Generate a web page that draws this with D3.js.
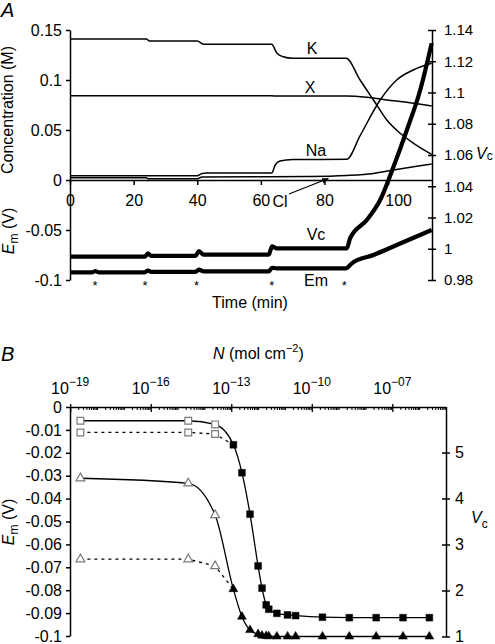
<!DOCTYPE html>
<html><head><meta charset="utf-8">
<script src="https://cdn.jsdelivr.net/npm/d3@7"></script>
<style>
body{margin:0;background:#fff}
svg{display:block;font-family:"Liberation Sans",Arial,Helvetica,sans-serif}
</style></head><body>
<svg id="c" width="495" height="644"></svg>
<script>
// ---------- Panel A data ----------
const timeTicks = [0, 20, 40, 60, 80, 100];
const concTicks = [-0.1, -0.05, 0, 0.05, 0.1, 0.15];
const vcTicksA = [0.98, 1, 1.02, 1.04, 1.06, 1.08, 1.1, 1.12, 1.14];

const tK = [0, 24, 25, 40, 42, 63.4, 65, 67, 70, 86.8, 91.2, 95.4, 99.6, 103.8, 108, 113.7];
const K  = [0.141, 0.141, 0.139, 0.139, 0.1357, 0.1357, 0.127, 0.1233, 0.1218, 0.1217, 0.100, 0.080, 0.060, 0.0467, 0.0367, 0.0257];
const tX = [0, 63, 64, 86.8, 93.3, 99.6, 105.9, 113.7];
const X  = [0.0843, 0.0843, 0.0840, 0.0840, 0.0827, 0.0800, 0.0777, 0.074];
const tNa = [0, 40, 41.5, 43, 63.4, 64.5, 66, 70, 87, 91.2, 97.5, 102.7, 107.9, 113.7];
const Na  = [0.0042, 0.0042, 0.0065, 0.0069, 0.0069, 0.015, 0.019, 0.0205, 0.0207, 0.0443, 0.080, 0.100, 0.110, 0.1167];
const tCl = [0, 24, 24.5, 40, 41.5, 75, 87, 95.4, 101.7, 108, 113.7];
const Cl  = [0.0022, 0.0022, 0.0012, 0.0012, 0.003, 0.0035, 0.0045, 0.0065, 0.010, 0.0133, 0.016];
const tEm = [0, 7, 8, 9, 23.5, 24.5, 25.5, 39.5, 40.5, 42, 62.5, 63.5, 65, 86.8, 88.6, 95.4, 102.7, 113.7];
const EmA = [-0.0923, -0.0923, -0.0912, -0.0923, -0.0923, -0.0905, -0.0918, -0.0918, -0.0897, -0.0913, -0.0913, -0.0878, -0.0883, -0.0883, -0.0833, -0.075, -0.065, -0.050];
const tVc = [0, 23.5, 24.5, 25.5, 39.5, 40.5, 42, 62.5, 63.5, 65, 87, 88.05, 93.3, 97.5, 101.7, 105.9, 110.1, 113.7];
const VcA = [0.9949, 0.9949, 0.997, 0.9955, 0.9955, 0.9985, 0.9962, 0.9962, 1.0015, 1.0003, 1.0003, 1.0067, 1.0184, 1.0312, 1.0525, 1.076, 1.1016, 1.1315];
const starTimes = [7.9, 23.6, 39.8, 63.4, 86.2];

// ---------- Panel B data ----------
const N = [2.4e-19, 2.5e-15, 2.5e-14, 1.2e-13, 2.5e-13, 5e-13, 1e-12, 1.4e-12, 2e-12, 2.5e-12, 5e-12, 1.25e-11, 2.5e-11, 2.5e-10, 2.5e-9, 2.5e-8, 2.5e-7, 2.4e-6];
const EmSolid = [-0.006, -0.006, -0.0076, -0.0165, -0.0287, -0.0468, -0.0694, -0.0791, -0.0864, -0.0883, -0.0901, -0.0908, -0.0911, -0.0918, -0.092, -0.092, -0.092, -0.092];
const EmDotted = [-0.0111, -0.0111, -0.0118];
const VcSolid = [4.44, 4.33, 3.64, 2.03, 1.43, 1.14, 1.05, 1.02, 1.01, 1.005, 1.0, 1.0, 1.0, 1.0, 1.0, 1.0, 1.0, 1.0];
const VcDotted = [2.68, 2.68, 2.53];
const nOpen = 3;
const emTicksB = [-0.1, -0.09, -0.08, -0.07, -0.06, -0.05, -0.04, -0.03, -0.02, -0.01, 0];
const vcTicksB = [1, 2, 3, 4, 5];
const nMajor = [1e-19, 1e-16, 1e-13, 1e-10, 1e-7];
const nMajorLabels = ["\u221219", "\u221216", "\u221213", "\u221210", "\u221207"];

const svg = d3.select("#c");
const FS = 16;
const fmt = d => String(+d.toFixed(2));

function styleAxis(g, fs) {
  g.selectAll(".domain").attr("stroke", "#000").attr("stroke-width", 1.5);
  g.selectAll(".tick line").attr("stroke", "#000").attr("stroke-width", 1.5);
  g.selectAll(".tick text").attr("fill", "#000").attr("font-size", fs || FS).attr("font-family", null);
  g.attr("font-family", null);
}

// ================= Panel A =================
const xA = d3.scaleLinear([0, 113.8], [70, 432]);
const yAL = d3.scaleLinear([-0.1, 0.15], [280, 30]);
const yAR = d3.scaleLinear([0.98, 1.14], [280, 30]);

const gA = svg.append("g");
const ax = gA.append("g").attr("transform", `translate(0,${yAL(0)})`)
  .call(d3.axisBottom(xA).tickValues(timeTicks).tickSize(5).tickSizeOuter(0).tickPadding(10).tickFormat(d3.format("d")));
styleAxis(ax);
ax.selectAll(".tick text").filter(d => d === 100).attr("dx", 10);

const al = gA.append("g").attr("transform", "translate(70,0)")
  .call(d3.axisLeft(yAL).tickValues(concTicks).tickSize(4).tickSizeOuter(0).tickPadding(4).tickFormat(fmt));
styleAxis(al);

const ar = gA.append("g").attr("transform", "translate(432,0)")
  .call(d3.axisRight(yAR).tickValues(vcTicksA).tickSize(4).tickSizeOuter(0).tickPadding(8).tickFormat(fmt));
styleAxis(ar, 15);
ar.selectAll(".tick line").attr("x1", -4).attr("x2", 4);

function lineA(ts, vs, yS, w) {
  const pts = ts.map((t, i) => [xA(t), yS(vs[i])]);
  gA.append("path").attr("d", d3.line().curve(d3.curveMonotoneX)(pts))
    .attr("fill", "none").attr("stroke", "#000").attr("stroke-width", w)
    .attr("stroke-linejoin", "round");
}
lineA(tCl, Cl, yAL, 1.5);
lineA(tNa, Na, yAL, 1.5);
lineA(tX, X, yAL, 1.5);
lineA(tK, K, yAL, 1.5);
lineA(tEm, EmA, yAL, 4.2);
lineA(tVc, VcA, yAR, 4.2);

const lab = (x, y, t) => gA.append("text").attr("x", x).attr("y", y).attr("font-size", FS).attr("text-anchor", "middle").text(t);
lab(312, 54, "K");
lab(310, 93, "X");
lab(316, 156, "Na");
lab(280, 206.5, "Cl");
lab(316, 240, "Vc");
lab(316, 286, "Em");

svg.append("defs").append("marker").attr("id", "ah").attr("viewBox", "0 0 10 10")
  .attr("refX", 9).attr("refY", 5).attr("markerWidth", 7).attr("markerHeight", 7)
  .attr("orient", "auto").attr("markerUnits", "userSpaceOnUse")
  .append("path").attr("d", "M0,1 L10,5 L0,9 z").attr("fill", "#000");
gA.append("line").attr("x1", 289).attr("y1", 194).attr("x2", xA(81.2)).attr("y2", yAL(0.0015))
  .attr("stroke", "#000").attr("stroke-width", 1.2).attr("marker-end", "url(#ah)");

gA.selectAll("text.star").data(starTimes).join("text").attr("class", "star")
  .attr("x", d => xA(d)).attr("y", 290).attr("text-anchor", "middle").attr("font-size", 13).text("*");

gA.append("text").attr("x", 250).attr("y", 308).attr("text-anchor", "middle").attr("font-size", FS).text("Time (min)");
gA.append("text").attr("transform", "translate(13,110) rotate(-90)").attr("text-anchor", "middle").attr("font-size", FS).text("Concentration (M)");
const emA = gA.append("text").attr("transform", "translate(14,231) rotate(-90)").attr("text-anchor", "middle").attr("font-size", FS);
emA.append("tspan").attr("font-style", "italic").text("E");
emA.append("tspan").attr("font-size", 12).attr("dy", 4).text("m");
emA.append("tspan").attr("dy", -4).text(" (V)");
const vcA = gA.append("text").attr("x", 476).attr("y", 159).attr("font-size", FS);
vcA.append("tspan").attr("font-style", "italic").text("V");
vcA.append("tspan").attr("font-size", 12).attr("dy", 1).text("c");
gA.append("text").attr("x", 1).attr("y", 17).attr("font-size", 20).attr("font-style", "italic").text("A");

// ================= Panel B =================
const xB = d3.scaleLog([1e-19, 1e-5], [70.2, 446]);
const yBL = d3.scaleLinear([-0.1, 0], [636, 407]);
const yBR = d3.scaleLinear([1, 6], [636.5, 406.5]);
const gB = svg.append("g");

const bl = gB.append("g").attr("transform", "translate(70,0)")
  .call(d3.axisLeft(yBL).tickValues(emTicksB).tickSize(4).tickSizeOuter(0).tickPadding(4).tickFormat(fmt));
styleAxis(bl);
const br = gB.append("g").attr("transform", "translate(446,0)")
  .call(d3.axisRight(yBR).tickValues(vcTicksB).tickSize(4).tickSizeOuter(0).tickPadding(5).tickFormat(d3.format("d")));
styleAxis(br);
br.selectAll(".tick line").attr("x1", -4).attr("x2", 4);

const minor = [];
for (let e = -19; e < -5; e++) for (let m = 1; m <= 9; m++) minor.push(m * Math.pow(10, e));
minor.push(1e-5);
const bt = gB.append("g").attr("transform", `translate(0,${yBL(0)})`)
  .call(d3.axisBottom(xB).tickValues(minor).tickSize(3).tickSizeOuter(0).tickFormat(""));
styleAxis(bt);
bt.selectAll(".tick line").attr("stroke-width", 1);
bt.selectAll(".tick").filter(d => nMajor.some(v => Math.abs(Math.log10(v) - Math.log10(d)) < 1e-6)).select("line")
  .attr("y1", -3).attr("y2", 5).attr("stroke-width", 1.3);
nMajor.forEach((v, i) => {
  const t = gB.append("text").attr("x", xB(v)).attr("y", 394).attr("text-anchor", "middle").attr("font-size", 16);
  t.append("tspan").text("10");
  t.append("tspan").attr("font-size", 12).attr("dy", -8).text(nMajorLabels[i]);
});
const nt = gB.append("text").attr("x", 213).attr("y", 358.5).attr("font-size", FS);
nt.append("tspan").attr("font-style", "italic").text("N");
nt.append("tspan").text(" (mol cm");
nt.append("tspan").attr("font-size", 11).attr("dy", -7).text("\u22122");
nt.append("tspan").attr("dy", 7).text(")");

const lineLin = d3.line();
const lineMono = d3.line().curve(d3.curveMonotoneX);
const ptsEmS = N.map((n, i) => [xB(n), yBL(EmSolid[i])]);
const ptsVcS = N.map((n, i) => [xB(n), yBR(VcSolid[i])]);
const ptsEmD = EmDotted.map((v, i) => [xB(N[i]), yBL(v)]).concat([[xB(N[nOpen]), yBL(EmSolid[nOpen])]]);
const ptsVcD = VcDotted.map((v, i) => [xB(N[i]), yBR(v)]).concat([[xB(N[nOpen]), yBR(VcSolid[nOpen])]]);
[ptsEmS, ptsVcS].forEach(p => gB.append("path").attr("d", lineMono(p)).attr("fill", "none").attr("stroke", "#000").attr("stroke-width", 1.3));
[ptsEmD, ptsVcD].forEach(p => gB.append("path").attr("d", lineLin(p)).attr("fill", "none").attr("stroke", "#000").attr("stroke-width", 1.3).attr("stroke-dasharray", "3,4"));

const sq = d3.symbol(d3.symbolSquare, 46)();
const tri = d3.symbol(d3.symbolTriangle, 34)();
function markers(pts, shape, openCount) {
  pts.forEach((p, i) => {
    const open = i < openCount;
    gB.append("path").attr("d", shape).attr("transform", `translate(${p[0]},${p[1]})`)
      .attr("fill", open ? "#fff" : "#000").attr("stroke", open ? "#7a7a7a" : "#000").attr("stroke-width", open ? 1.2 : 0.5);
  });
}
markers(ptsEmD.slice(0, nOpen), sq, nOpen);
markers(ptsVcD.slice(0, nOpen), tri, nOpen);
markers(ptsEmS, sq, nOpen);
markers(ptsVcS, tri, nOpen);

const emB = gB.append("text").attr("transform", "translate(14,522) rotate(-90)").attr("text-anchor", "middle").attr("font-size", FS);
emB.append("tspan").attr("font-style", "italic").text("E");
emB.append("tspan").attr("font-size", 12).attr("dy", 4).text("m");
emB.append("tspan").attr("dy", -4).text(" (V)");
const vcB = gB.append("text").attr("x", 471).attr("y", 523).attr("font-size", FS);
vcB.append("tspan").attr("font-style", "italic").text("V");
vcB.append("tspan").attr("font-size", 12).attr("dy", 5).text("c");
gB.append("text").attr("x", 1).attr("y", 361).attr("font-size", 20).attr("font-style", "italic").text("B");
</script>
</body></html>
